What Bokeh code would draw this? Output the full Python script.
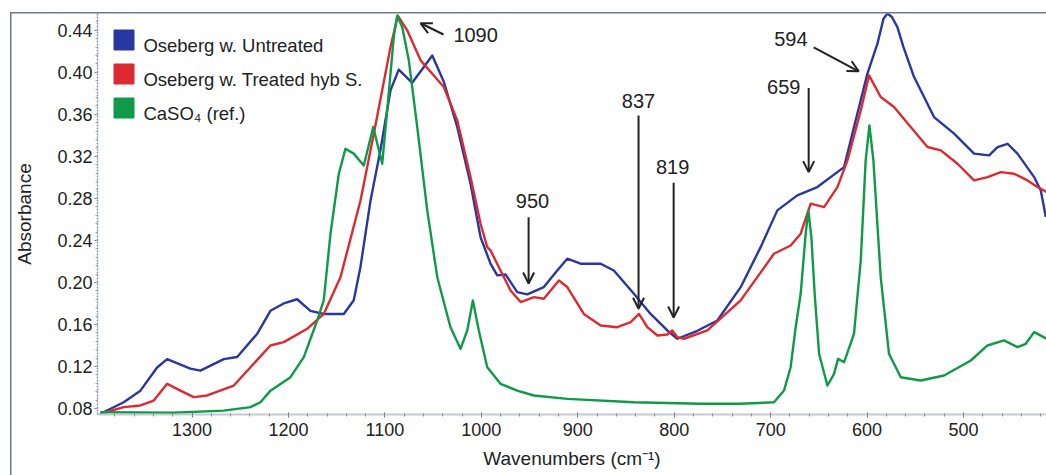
from bokeh.plotting import figure
from bokeh.models import (Range1d, FixedTicker, PrintfTickFormatter, Legend, LegendItem,
                          Label, Arrow, OpenHead)
from bokeh.embed import file_html
from bokeh.resources import INLINE

# ---------------- data ----------------
untreated_wn = [1395, 1370.8, 1353.5, 1336.2, 1325.8, 1301.7, 1291.3, 1267.1, 1253.2, 1232.5,
                1218.7, 1204.9, 1191, 1177.2, 1163.4, 1142.6, 1132.3, 1125.3, 1114.9, 1104.6,
                1094.2, 1085.6, 1071.7, 1059.6, 1050.9, 1038.9, 1025, 1011.2, 1000.8, 990.5,
                983.5, 974.9, 962.8, 952.4, 935.2, 921.3, 910.9, 897.1, 876.3, 862.6,
                841.8, 824.5, 807.2, 796.8, 776, 755.3, 731.1, 710.4, 693.1, 672.4,
                651.6, 623.9, 613.6, 599.7, 589.3, 583, 578.9, 574.3, 568.6, 562.3, 551.3, 530.6, 509.8,
                489.1, 473.5, 464.8, 454.4, 444.1, 426.8, 419.9, 414.7]
untreated_abs = [0.075, 0.086, 0.097, 0.119, 0.127, 0.118, 0.116, 0.127, 0.129, 0.151,
                 0.173, 0.180, 0.184, 0.173, 0.170, 0.170, 0.183, 0.215, 0.278, 0.326,
                 0.383, 0.4026, 0.390, 0.405, 0.416, 0.391, 0.348, 0.294, 0.243, 0.218,
                 0.2067, 0.2076, 0.1908, 0.1886, 0.1956, 0.2114, 0.2226, 0.2178, 0.2178, 0.2114,
                 0.1892, 0.170, 0.1543, 0.1464, 0.154, 0.1638, 0.1955, 0.2336, 0.2686, 0.2829,
                 0.2908, 0.3098, 0.348, 0.3988, 0.4273, 0.451, 0.456, 0.4527, 0.443, 0.424, 0.3955, 0.3574, 0.3416,
                 0.3226, 0.321, 0.3289, 0.332, 0.3226, 0.3003, 0.2876, 0.2622]

treated_wn = [1395, 1370.8, 1353.5, 1339.7, 1325.8, 1312, 1298.2, 1284.3, 1256.7, 1239.4,
              1218.7, 1204.9, 1180.6, 1163.4, 1146.1, 1125.3, 1111.5, 1094.2, 1086.6, 1076.9,
              1063, 1049.3, 1038.9, 1025, 1011.2, 1000.8, 993.9, 990.5, 980.1, 969.7,
              959.3, 945.5, 935.2, 919.6, 910.9, 893.7, 876.3, 859, 845.2, 836.6,
              827.9, 817.5, 807.2, 802, 796.8, 789.9, 765.7, 731.1, 696.6, 679.3,
              668.9, 658.5, 644.7, 630.8, 620.4, 606.6, 598, 585.9, 572.1, 554.8,
              537.4, 523.6, 506.3, 489.1, 475.2, 461.4, 447.6, 433.7, 423.4, 413.7]
treated_abs = [0.075, 0.0813, 0.0829, 0.0876, 0.1035, 0.097, 0.0908, 0.0924, 0.1019, 0.1193,
               0.140, 0.1432, 0.1559, 0.170, 0.205, 0.278, 0.3416, 0.424, 0.454, 0.440,
               0.4114, 0.397, 0.386, 0.3543, 0.3003, 0.2559, 0.2336, 0.2305, 0.2114, 0.1924,
               0.1813, 0.186, 0.1845, 0.2019, 0.1956, 0.170, 0.159, 0.1574, 0.1622, 0.170,
               0.1574, 0.1495, 0.1505, 0.1543, 0.1479, 0.1464, 0.1543, 0.1829, 0.2273, 0.2352,
               0.2464, 0.275, 0.2717, 0.2908, 0.3162, 0.3638, 0.3971, 0.3765, 0.367, 0.348,
               0.3289, 0.3257, 0.313, 0.2971, 0.3003, 0.305, 0.3035, 0.2971, 0.2908, 0.286]

caso4_wn = [1395, 1319, 1267.1, 1239.4, 1229, 1218.7, 1197.9, 1184.1, 1170.2, 1163.4,
            1156.4, 1147.8, 1140.9, 1132.3, 1121.9, 1112.1, 1102.8, 1097.6, 1090.8, 1087.3,
            1082, 1075.2, 1066.5, 1056.1, 1045.7, 1032, 1021.6, 1014.6, 1008.8, 1002.6,
            993.9, 980.1, 962.8, 945.5, 910.9, 841.8, 772.6, 731.1, 696.6, 686.2,
            679.3, 674.1, 668.9, 663.7, 660.9, 657.8, 654.4, 649.8, 641.2, 634.3,
            630.1, 623.9, 613.6, 606.6, 601.5, 597.6, 593.5, 585.9, 577.3, 565.1,
            544.4, 520.2, 492.5, 475.2, 458, 444.1, 435.5, 426.8, 413.7]
caso4_abs = [0.0765, 0.076, 0.078, 0.0813, 0.086, 0.097, 0.1098, 0.1289, 0.1638, 0.1829,
             0.2464, 0.3035, 0.3273, 0.3226, 0.3114, 0.348, 0.313, 0.364, 0.4336, 0.454,
             0.443, 0.4114, 0.348, 0.2686, 0.205, 0.1574, 0.1368, 0.1543, 0.1829, 0.1543,
             0.1193, 0.1035, 0.0971, 0.0924, 0.0892, 0.086, 0.0845, 0.0845, 0.086, 0.0971,
             0.1193, 0.1574, 0.1892, 0.2464, 0.2686, 0.2432, 0.1892, 0.1321, 0.1019, 0.113,
             0.1273, 0.1241, 0.1511, 0.221, 0.3162, 0.3495, 0.3162, 0.205, 0.1321, 0.1098,
             0.1067, 0.1114, 0.1257, 0.14, 0.1448, 0.1384, 0.1416, 0.1527, 0.1464]

series_names = ["Oseberg w. Untreated", "Oseberg w. Treated hyb S.", "CaSO\u2084 (ref.)"]
series_colors = ["#2b37a0", "#dd2a30", "#0f9a48"]

x_ticks = [1300, 1200, 1100, 1000, 900, 800, 700, 600, 500]
y_ticks = [0.08, 0.12, 0.16, 0.20, 0.24, 0.28, 0.32, 0.36, 0.40, 0.44]

# legend text anchor (data units): the labels sit a little below the swatch centres
legend_text_wn = 1350.4
legend_text_abs = [0.4252, 0.3929, 0.3605]

# annotations: label, text position (wn, abs), arrow start, arrow end
ann_labels = ["1090", "950", "837", "819", "659", "594"]
ann_text_wn = [1029, 947, 837, 801.7, 686.5, 679]
ann_text_abs = [0.4357, 0.278, 0.373, 0.3095, 0.3857, 0.432]
ann_align = ["left", "center", "center", "center", "center", "center"]
arrow_x0 = [1039.2, 951, 837, 800.6, 660.6, 655.4]
arrow_y0 = [0.436, 0.262, 0.359, 0.295, 0.385, 0.4238]
arrow_x1 = [1063, 951, 837, 800.6, 660.6, 608.7]
arrow_y1 = [0.4467, 0.199, 0.175, 0.1667, 0.305, 0.401]

FONT = "Liberation Sans"
TXT = "#222222"
FRAME = "#737a82"

p = figure(width=1046, height=475, output_backend="svg", toolbar_location=None,
           x_range=Range1d(1398, 414), y_range=Range1d(0.0743, 0.456),
           min_border_left=97, min_border_right=0, min_border_top=13, min_border_bottom=61)
p.outline_line_color = None
p.xgrid.visible = False
p.ygrid.visible = False
p.background_fill_color = None
p.border_fill_color = None
# outer panel frame (left and top rules of the published figure box)
p.styles = {
    "background-color": "white",
    "background-image": f"linear-gradient({FRAME},{FRAME}), linear-gradient({FRAME},{FRAME})",
    "background-size": "1.5px 100%, 100% 1.5px",
    "background-position": "10px 13px, 10px 12px",
    "background-repeat": "no-repeat",
}

for wn, ab, col in zip([untreated_wn, treated_wn, caso4_wn],
                       [untreated_abs, treated_abs, caso4_abs], series_colors):
    p.line(wn, ab, line_color=col, line_width=2.4, line_join="round")

# legend swatches (swatch-only renderers carry no drawable data)
nan = float("nan")
items = []
for name, col in zip(series_names, series_colors):
    r = p.quad(left=[nan], right=[nan], top=[nan], bottom=[nan], fill_color=col, line_color=col)
    items.append(LegendItem(label="", renderers=[r]))
legend = Legend(items=items, location="top_left", glyph_width=25, glyph_height=25,
                label_height=25, label_width=0, spacing=9, padding=14, margin=0,
                label_standoff=0, background_fill_alpha=0, border_line_alpha=0)
p.add_layout(legend)
for name, ty in zip(series_names, legend_text_abs):
    p.add_layout(Label(x=legend_text_wn, y=ty, text=name, text_align="left",
                       text_baseline="middle", text_font=FONT, text_font_size="18.5px",
                       text_color=TXT))

# axes
xa = p.xaxis[0]
xa.ticker = FixedTicker(ticks=x_ticks, minor_ticks=list(range(420, 1400, 20)))
xa.axis_label = "Wavenumbers (cm\u207b\u00b9)"
xa.axis_line_color = "#c4c9d2"
xa.axis_line_width = 2
xa.major_tick_line_color = "#666666"
xa.minor_tick_line_color = "#888888"
xa.major_tick_in = 2
xa.major_tick_out = 3
xa.minor_tick_in = 1
xa.minor_tick_out = 2
xa.major_label_standoff = 5
xa.axis_label_standoff = 9

ya = p.yaxis[0]
ya.ticker = FixedTicker(ticks=y_ticks, minor_ticks=[round(0.08 + 0.008 * i, 3) for i in range(-1, 48)])
ya.formatter = PrintfTickFormatter(format="%.2f")
ya.axis_label = "Absorbance"
ya.axis_line_color = "#8a96ad"
ya.axis_line_dash = "2 1"
ya.axis_line_width = 1.5
ya.major_tick_line_color = "#666666"
ya.minor_tick_line_color = "#9aa3b5"
ya.major_tick_in = 0
ya.major_tick_out = 3
ya.minor_tick_in = 0
ya.minor_tick_out = 2
ya.major_label_standoff = 2
ya.axis_label_standoff = 19

for ax in (xa, ya):
    ax.major_label_text_font = FONT
    ax.major_label_text_font_size = "18px"
    ax.major_label_text_color = TXT
    ax.axis_label_text_font = FONT
    ax.axis_label_text_font_size = "19px"
    ax.axis_label_text_font_style = "normal"
    ax.axis_label_text_color = TXT

# peak annotations
for lab, tx, ty, al, x0, y0, x1, y1 in zip(ann_labels, ann_text_wn, ann_text_abs, ann_align,
                                           arrow_x0, arrow_y0, arrow_x1, arrow_y1):
    p.add_layout(Label(x=tx, y=ty, text=lab, text_align=al, text_baseline="middle",
                       text_font=FONT, text_font_size="20px", text_color=TXT))
    p.add_layout(Arrow(x_start=x0, y_start=y0, x_end=x1, y_end=y1,
                       line_color=TXT, line_width=2,
                       end=OpenHead(size=11, line_color=TXT, line_width=2)))

open("out.html", "w").write(file_html(p, INLINE))
